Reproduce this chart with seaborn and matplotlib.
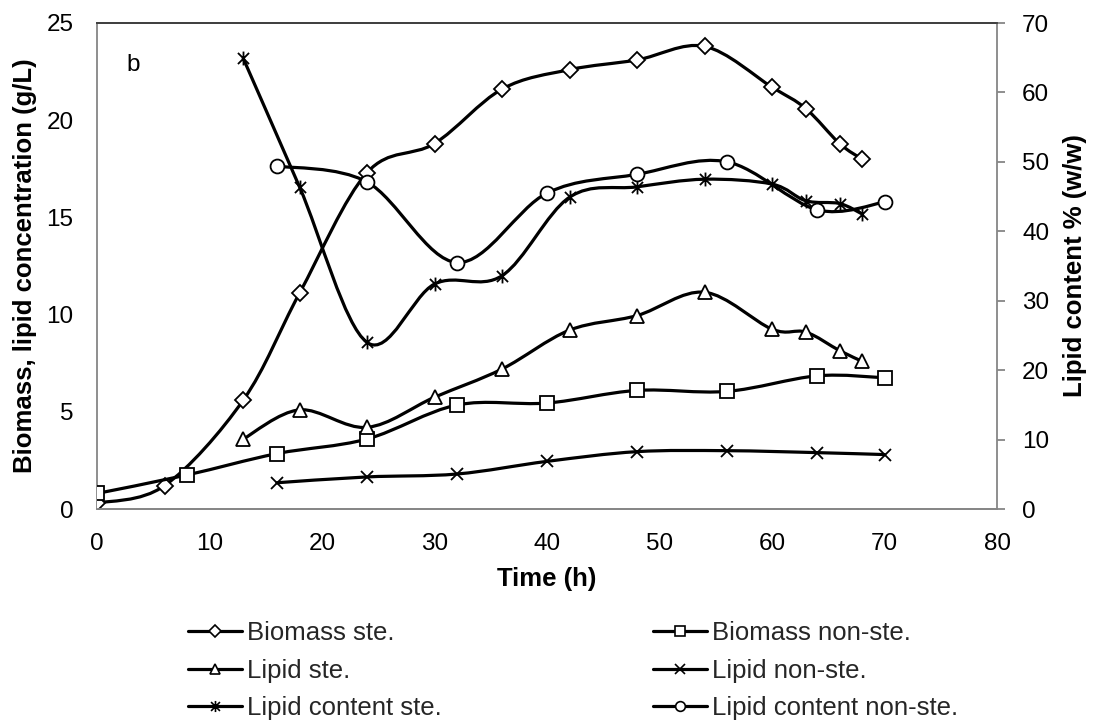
import numpy as np
import matplotlib
matplotlib.use("Agg")
import matplotlib.pyplot as plt
import seaborn as sns
from matplotlib.path import Path
from matplotlib.patches import PathPatch
from matplotlib.lines import Line2D

# ---------------- data ----------------
t_bio_ste = [0, 6, 13, 18, 24, 30, 36, 42, 48, 54, 60, 63, 66, 68]
bio_ste = [0.3, 1.2, 5.6, 11.1, 17.3, 18.8, 21.6, 22.6, 23.1, 23.8, 21.7, 20.6, 18.8, 18.0]

t_bio_non = [0, 8, 16, 24, 32, 40, 48, 56, 64, 70]
bio_non = [0.8, 1.75, 2.85, 3.6, 5.35, 5.45, 6.1, 6.05, 6.85, 6.75]

t_ste = [13, 18, 24, 30, 36, 42, 48, 54, 60, 63, 66, 68]
lip_ste = [3.6, 5.1, 4.2, 5.75, 7.2, 9.2, 9.95, 11.15, 9.25, 9.1, 8.15, 7.6]
lc_ste = [64.9, 46.4, 24.0, 32.4, 33.6, 44.9, 46.4, 47.5, 46.8, 44.4, 44.0, 42.5]

t_non = [16, 24, 32, 40, 48, 56, 64, 70]
lip_non = [1.35, 1.65, 1.8, 2.45, 2.95, 3.0, 2.9, 2.8]
lc_non = [49.4, 47.1, 35.5, 45.5, 48.2, 50.0, 43.1, 44.2]

labels = ["Biomass ste.", "Biomass non-ste.", "Lipid ste.", "Lipid non-ste.",
          "Lipid content ste.", "Lipid content non-ste."]

# ---------------- style ----------------
sns.set_theme(style="white")
plt.rcParams['font.family'] = ['Liberation Sans', 'DejaVu Sans']
GRAY = "#868686"
TICK_FS = 17.5
LAB_FS = 18.5

fig = plt.figure(figsize=(10.94, 7.24), dpi=100)
ax = fig.add_axes([97/1094, 1-509/724, 900/1094, 486/724])
ax2 = ax.twinx()


def smooth_path(x, y):
    pts = np.column_stack([x, y]).astype(float)
    n = len(pts)
    verts = [pts[0]]
    codes = [Path.MOVETO]
    for i in range(n - 1):
        p0 = pts[i - 1] if i > 0 else pts[i]
        p1 = pts[i]
        p2 = pts[i + 1]
        p3 = pts[i + 2] if i + 2 < n else pts[i + 1]
        c1 = p1 + (p2 - p0) / 6.0
        c2 = p2 - (p3 - p1) / 6.0
        verts += [c1, c2, p2]
        codes += [Path.CURVE4] * 3
    return Path(verts, codes)


# Excel-style asterisk: an X with a vertical bar
ASTER = Path([(-0.8, -0.8), (0.8, 0.8), (-0.8, 0.8), (0.8, -0.8), (0, -1), (0, 1)],
             [Path.MOVETO, Path.LINETO, Path.MOVETO, Path.LINETO, Path.MOVETO, Path.LINETO])

series = [
    (ax, t_bio_ste, bio_ste, 'D', 8.5),
    (ax, t_bio_non, bio_non, 's', 9.5),
    (ax, t_ste, lip_ste, '^', 10),
    (ax, t_non, lip_non, 'x', 9),
    (ax2, t_ste, lc_ste, ASTER, 10),
    (ax2, t_non, lc_non, 'o', 10),
]

for k, (a, xs, ys, mk, ms) in enumerate(series):
    patch = PathPatch(smooth_path(xs, ys), facecolor='none', edgecolor='black',
                      lw=2.3, zorder=2 + 2 * k, capstyle='round', joinstyle='round')
    a.add_patch(patch)
    face = 'none' if isinstance(mk, Path) else 'white'
    sns.lineplot(x=xs, y=ys, ax=a, marker=mk, markersize=ms, linestyle='',
                 markerfacecolor=face, markeredgecolor='black', color='black',
                 markeredgewidth=1.3, zorder=3 + 2 * k, estimator=None, sort=False)

ax.set_xlim(0, 80)
ax.set_ylim(0, 25)
ax2.set_ylim(0, 70)
ax.set_xticks(np.arange(0, 81, 10))
ax.set_yticks(np.arange(0, 26, 5))
ax2.set_yticks(np.arange(0, 71, 10))

for a in (ax, ax2):
    for s in a.spines.values():
        s.set_color(GRAY)
        s.set_linewidth(1.3)
ax.spines['top'].set_color('#404040')
ax2.spines['top'].set_color('#404040')
ax.spines['right'].set_visible(False)
ax2.spines['left'].set_visible(False)

ax.tick_params(axis='x', length=0, pad=17, labelsize=TICK_FS, colors='black')
ax.tick_params(axis='y', length=0, pad=17, labelsize=TICK_FS, colors='black')
ax2.tick_params(axis='y', length=6, width=1.3, color=GRAY, pad=12,
                labelsize=TICK_FS, labelcolor='black', direction='out')

ax.set_xlabel("Time (h)", fontsize=LAB_FS, fontweight='bold', color='black')
ax.xaxis.set_label_coords(0.5, -(579 - 509) / 486)
ax.xaxis.label.set_va('center')
ax.set_ylabel("Biomass, lipid concentration (g/L)", fontsize=LAB_FS,
              fontweight='bold', color='black')
ax.yaxis.set_label_coords((25 - 97) / 900, 0.5)
ax.yaxis.label.set_va('center')
ax2.set_ylabel("Lipid content % (w/w)", fontsize=LAB_FS, fontweight='bold',
               color='black', rotation=90)
ax2.yaxis.set_label_coords((1075 - 97) / 900, 0.5)
ax2.yaxis.label.set_va('center')

ax.text((133 - 97) / 900, 1 - (65 - 23) / 486, "b", transform=ax.transAxes,
        fontsize=TICK_FS, ha='center', va='center', color='black')

ax.grid(False)
ax2.grid(False)

# legend (column-wise fill: left column ste., right column non-ste.)
mk_leg = [('D', 6.5), ('s', 7), ('^', 7.5), ('x', 7), (ASTER, 8), ('o', 7)]
handles = []
for m, s in mk_leg:
    face = 'none' if isinstance(m, Path) else 'white'
    handles.append(Line2D([0], [0], color='black', lw=2.3, marker=m, markersize=s,
                          markerfacecolor=face, markeredgecolor='black',
                          markeredgewidth=1.2))
order = [0, 2, 4, 1, 3, 5]
fig.legend([handles[i] for i in order], [labels[i] for i in order],
           loc='upper left', bbox_to_anchor=(188 / 1094, 1 - 621 / 724),
           ncol=2, frameon=False, fontsize=LAB_FS, handlelength=2.1,
           handletextpad=0.2, columnspacing=8.2, labelspacing=0.53,
           borderpad=0, borderaxespad=0)

fig.savefig("out.png", dpi=100, facecolor='white')
